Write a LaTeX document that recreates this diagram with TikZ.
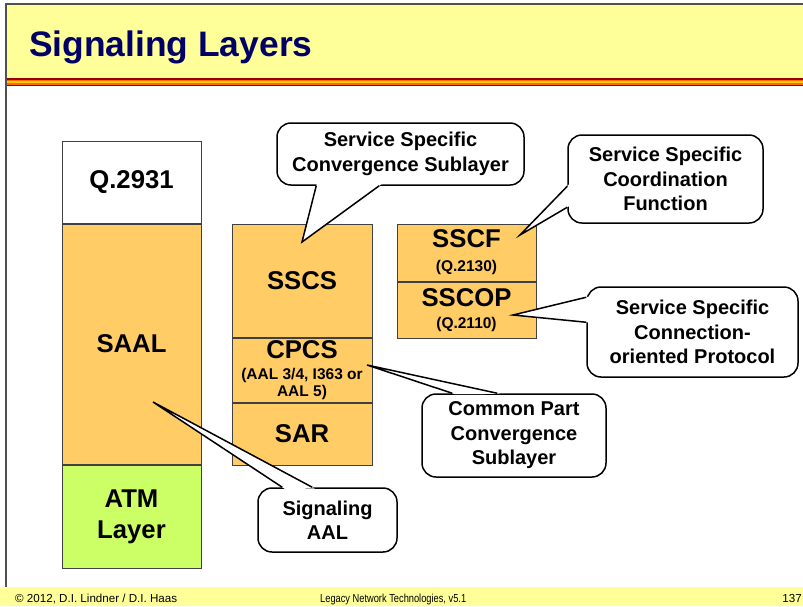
\documentclass[tikz,border=0pt]{standalone}
\usepackage{fontspec}
\setmainfont{Liberation Sans}
\usetikzlibrary{positioning, calc}
\definecolor{titlenavy}{RGB}{0, 0, 102}
\definecolor{slideyellow}{RGB}{255, 255, 153}
\definecolor{layerorange}{RGB}{255, 204, 102}
\definecolor{layergreen}{RGB}{204, 255, 102}
\definecolor{stripered}{RGB}{153, 0, 0}
\definecolor{stripeorange}{RGB}{255, 102, 0}
\definecolor{stripegold}{RGB}{255, 204, 0}
\definecolor{framegray}{RGB}{80, 80, 80}

\newcommand{\tagfont}{\fontsize{15.5}{15}\selectfont}
\newcommand{\notetail}[3]{%
  \fill[white] ($(#1)!-3pt!(#3)$) -- (#3) -- ($(#2)!-3pt!(#3)$) -- cycle;
  \draw[tailline] (#1) -- (#3) -- (#2);
}

\tikzset{
  layer/.style={rectangle, draw=black!75, line width=1pt, inner sep=0pt,
    align=center, font=\fontsize{25.7}{31}\selectfont\bfseries},
  note/.style={rectangle, rounded corners=14pt, draw=black, line width=1.5pt,
    fill=white, inner sep=0pt, align=center,
    font=\fontsize{20}{24.5}\selectfont\bfseries},
  tailline/.style={draw=black, line width=1.5pt},
  footnote/.style={anchor=base west, inner sep=0pt, font=\fontsize{11.6}{13}\selectfont}
}

\begin{document}
\begin{tikzpicture}[x=1pt, y=-1pt]
\useasboundingbox (0,0) rectangle (803,606);

% slide frame, title bar and footer
\fill[slideyellow] (6,4) rectangle (803,78);
\fill[stripered] (6,78) rectangle (803,86);
\fill[stripeorange] (6,79.5) rectangle (803,84.5);
\fill[stripegold] (6,81) rectangle (803,83);
\draw[framegray, line width=1.5pt] (6,587) -- (6,4) -- (803,4);
\fill[slideyellow] (0,587) rectangle (803,606);

\node[anchor=base west, inner sep=0pt, text=titlenavy,
  font=\fontsize{35.4}{40}\selectfont\bfseries] (title) at (29,56) {Signaling Layers};

\node[footnote] (copyright) at (15,602) {\textcopyright{} 2012, D.I. Lindner / D.I. Haas};
\node[footnote] (course) at (320,602) {\scalebox{0.8}[1]{Legacy Network Technologies, v5.1}};
\node[footnote, anchor=base east] (pageno) at (802,602) {137};

% left stack
\node[layer, fill=white, minimum width=139pt, minimum height=82pt] (q2931) at (131.5,182) {Q.2931};
\node[layer, fill=layerorange, minimum width=139pt, minimum height=240pt, below=0pt of q2931] (saal) {SAAL};
\node[layer, fill=layergreen, minimum width=139pt, minimum height=103pt, below=0pt of saal] (atm) {ATM\\Layer};

% middle stack
\node[layer, fill=layerorange, minimum width=140pt, minimum height=113pt] (sscs) at (302,280.5) {SSCS};
\node[layer, fill=layerorange, minimum width=140pt, minimum height=64pt, below=0pt of sscs] (cpcs)
  {CPCS\\[-10pt]{\tagfont (AAL 3/4, I363 or}\\[-14pt]{\tagfont AAL 5)}};
\node[layer, fill=layerorange, minimum width=140pt, minimum height=62pt, below=0pt of cpcs] (sar) {SAR};

% right stack
\node[layer, fill=layerorange, minimum width=139pt, minimum height=57pt] (sscf) at (466.5,252.5)
  {SSCF\\[-7pt]{\tagfont (Q.2130)}};
\node[layer, fill=layerorange, minimum width=139pt, minimum height=56pt, below=0pt of sscf] (sscop)
  {SSCOP\\[-9pt]{\tagfont (Q.2110)}};

% callouts
\node[note, minimum width=247pt, minimum height=62pt] (sscsnote) at (400.5,154) {Service Specific\\Convergence Sublayer};
\node[note, minimum width=195pt, minimum height=88pt] (sscfnote) at (665.5,179) {Service Specific\\Coordination\\Function};
\node[note, minimum width=211pt, minimum height=90pt] (sscopnote) at (692.5,332) {Service Specific\\Connection-\\oriented Protocol};
\node[note, minimum width=184pt, minimum height=83pt] (cpcsnote) at (514,435.5) {Common Part\\Convergence\\Sublayer};
\node[note, minimum width=139pt, minimum height=64pt] (saalnote) at (327.5,520) {Signaling\\AAL};

\coordinate (sscstip) at (302,242);
\coordinate (sscftip) at (520,235);
\coordinate (sscoptip) at (513,315);
\coordinate (cpcstip) at (367,365);
\coordinate (saaltip) at (153,402);

\notetail{[xshift=40pt]sscsnote.south west}{[xshift=103pt]sscsnote.south west}{sscstip}
\notetail{[yshift=-52pt]sscfnote.north west}{[yshift=-73pt]sscfnote.north west}{sscftip}
\notetail{[yshift=-11pt]sscopnote.north west}{[yshift=-36pt]sscopnote.north west}{sscoptip}
\notetail{[xshift=31pt]cpcsnote.north west}{[xshift=76pt]cpcsnote.north west}{cpcstip}
\notetail{[xshift=25pt]saalnote.north west}{[xshift=55pt]saalnote.north west}{saaltip}
\end{tikzpicture}
\end{document}
